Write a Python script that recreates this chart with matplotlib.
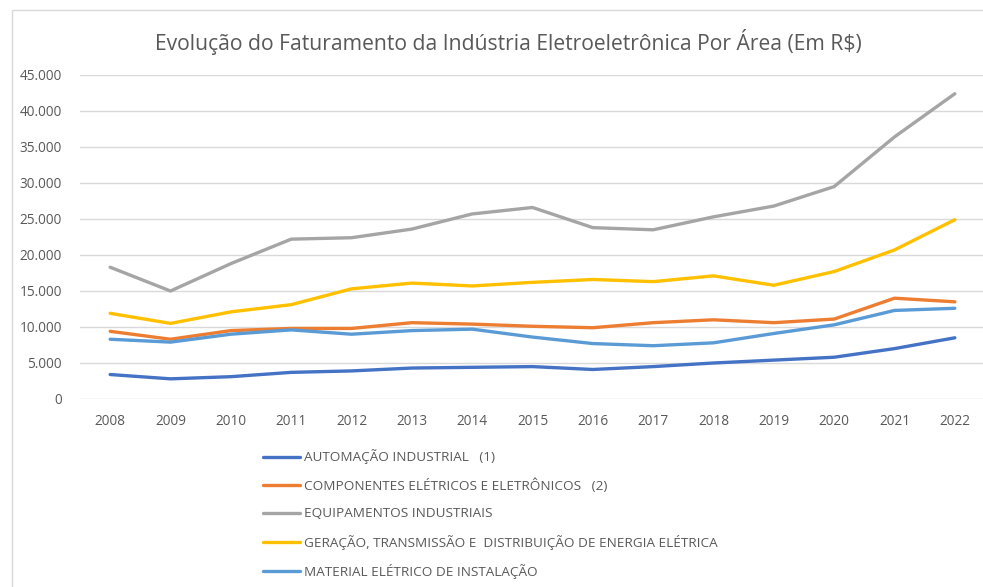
import matplotlib
matplotlib.use("Agg")
import matplotlib.pyplot as plt
from matplotlib.patches import Rectangle

years = [str(y) for y in range(2008, 2023)]
automacao = [3400, 2800, 3100, 3700, 3900, 4300, 4400, 4500, 4100, 4500, 5000, 5400, 5800, 7000, 8500]
componentes = [9400, 8300, 9500, 9800, 9800, 10600, 10400, 10100, 9900, 10600, 11000, 10600, 11100, 14000, 13500]
equipamentos = [18300, 15000, 18800, 22200, 22400, 23600, 25700, 26600, 23800, 23500, 25300, 26800, 29500, 36400, 42400]
geracao = [11900, 10500, 12100, 13100, 15300, 16100, 15700, 16200, 16600, 16300, 17100, 15800, 17700, 20700, 24900]
material = [8300, 7900, 9000, 9600, 9000, 9500, 9700, 8600, 7700, 7400, 7800, 9100, 10300, 12300, 12600]

series = [
    ("AUTOMAÇÃO INDUSTRIAL   (1)", automacao, "#4472C4"),
    ("COMPONENTES ELÉTRICOS E ELETRÔNICOS   (2)", componentes, "#ED7D31"),
    ("EQUIPAMENTOS INDUSTRIAIS", equipamentos, "#A5A5A5"),
    ("GERAÇÃO, TRANSMISSÃO E  DISTRIBUIÇÃO DE ENERGIA ELÉTRICA", geracao, "#FFC000"),
    ("MATERIAL ELÉTRICO DE INSTALAÇÃO", material, "#5B9BD5"),
]
yticks = [0, 5000, 10000, 15000, 20000, 25000, 30000, 35000, 40000, 45000]
ytick_labels = ["0", "5.000", "10.000", "15.000", "20.000", "25.000", "30.000", "35.000", "40.000", "45.000"]

plt.rcParams['font.family'] = ['Open Sans', 'DejaVu Sans']
W, H = 983, 587
fig = plt.figure(figsize=(W / 100, H / 100), dpi=100)

def fx(px):
    return px / W

def fy(py):
    return 1 - py / H

# chart border
fig.patches.append(Rectangle((fx(12), fy(600)), fx(1000), 590 / H, transform=fig.transFigure,
                             fill=False, edgecolor="#D9D9D9", linewidth=1))

ax = fig.add_axes([fx(80), fy(399), fx(985 - 80), (399 - 75) / H])
x = list(range(len(years)))
for label, vals, col in series:
    ax.plot(x, vals, color=col, linewidth=2.4, label=label, solid_capstyle="round")

ax.set_xlim(-0.5, len(years) - 0.5)
ax.set_ylim(0, 45000)
ax.set_yticks(yticks)
ax.set_yticklabels(ytick_labels)
ax.set_xticks(x)
ax.set_xticklabels(years)
ax.tick_params(axis="both", length=0, labelsize=9.8, colors="#595959")
ax.tick_params(axis="y", pad=13)
ax.tick_params(axis="x", pad=11)
ax.grid(axis="y", color="#D9D9D9", linewidth=1)
ax.set_axisbelow(True)
for s in ax.spines.values():
    s.set_visible(False)

fig.text(fx(508), fy(42), "Evolução do Faturamento da Indústria Eletroeletrônica Por Área (Em R$)",
         ha="center", va="center", fontsize=15.2, color="#595959")

handles, labels = ax.get_legend_handles_labels()
fig.legend(handles, labels, loc="upper left", bbox_to_anchor=(fx(258), fy(444)), frameon=False,
           fontsize=9.7, labelcolor="#595959", handlelength=2.7, handletextpad=0.35,
           labelspacing=1.06, borderaxespad=0)

fig.savefig("out.png", dpi=100)
